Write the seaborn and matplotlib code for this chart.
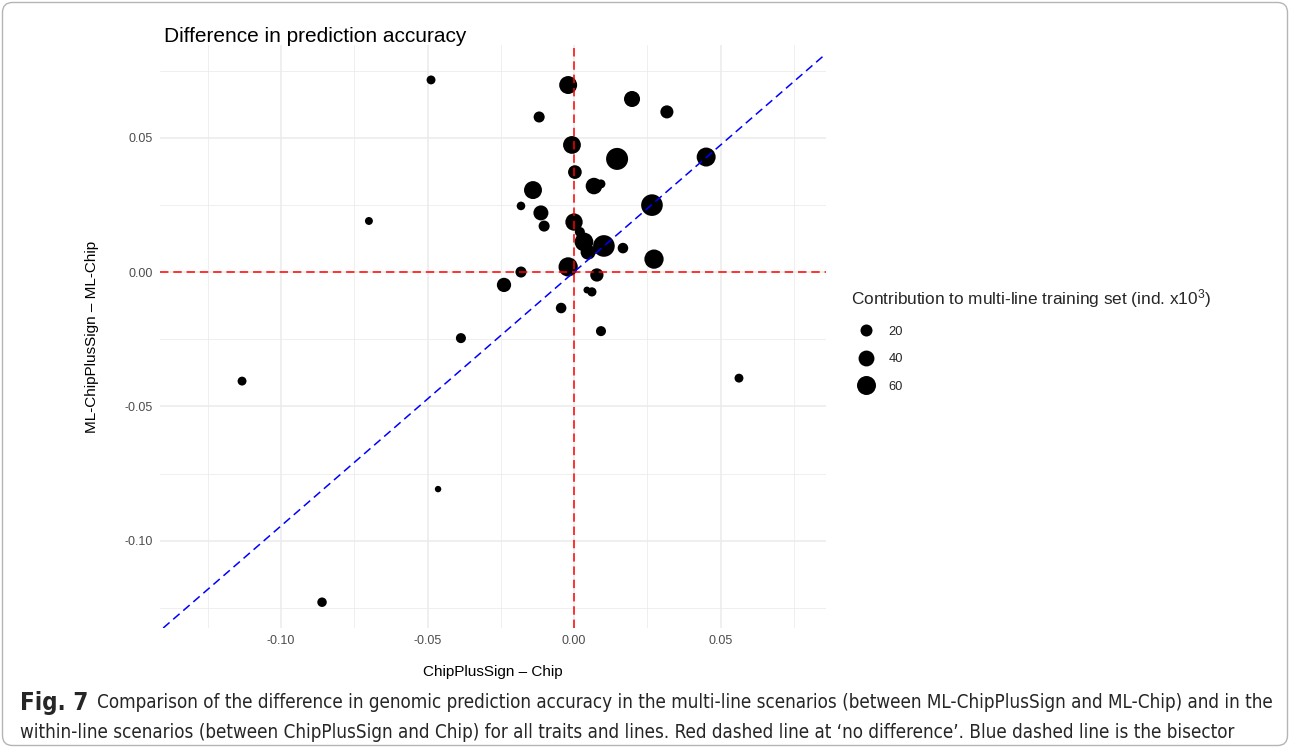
import numpy as np
import pandas as pd
import matplotlib
matplotlib.use("Agg")
import matplotlib.pyplot as plt
import seaborn as sns
from matplotlib.lines import Line2D
from matplotlib.patches import FancyBboxPatch
from matplotlib.ticker import FixedLocator, FixedFormatter
from matplotlib import font_manager

# ---------------- data ----------------
x_diff = [-0.0488, -0.0020, 0.0198, 0.0317, -0.0119, -0.0007, 0.0147, 0.0451,
          0.0003, 0.0068, 0.0092, -0.0140, -0.0181, -0.0113, 0.0266, -0.0700,
          -0.0102, 0.0000, 0.0020, 0.0034, 0.0048, 0.0102, 0.0167, 0.0273,
          -0.0020, -0.0181, 0.0078, -0.0239, 0.0044, 0.0061, -0.0044, 0.0092,
          -0.0386, -0.1133, 0.0563, -0.0464, -0.0860]
y_diff = [0.0715, 0.0696, 0.0644, 0.0596, 0.0577, 0.0473, 0.0421, 0.0428,
          0.0372, 0.0320, 0.0328, 0.0305, 0.0246, 0.0220, 0.0249, 0.0190,
          0.0171, 0.0186, 0.0149, 0.0112, 0.0074, 0.0097, 0.0089, 0.0048,
          0.0019, 0.0000, -0.0011, -0.0048, -0.0067, -0.0074, -0.0134, -0.0220,
          -0.0246, -0.0406, -0.0395, -0.0808, -0.1229]
contribution = [8, 53, 41, 25, 16, 52, 83, 60,
                28, 44, 8, 53, 7, 35, 80, 5,
                16, 49, 12, 58, 35, 80, 14, 62,
                62, 16, 26, 31, 2, 9, 14, 12,
                12, 8, 8, 1, 10]

x_ticks = [-0.10, -0.05, 0.00, 0.05]
x_tick_labels = ["-0.10", "-0.05", "0.00", "0.05"]
y_ticks = [-0.10, -0.05, 0.00, 0.05]
y_tick_labels = ["-0.10", "-0.05", "0.00", "0.05"]
legend_values = [20, 40, 60]
bisector_slope = 0.945   # slope of the blue dashed line as it appears in the figure

title_text = "Difference in prediction accuracy"
x_label = "ChipPlusSign \u2013 Chip"
y_label = "ML-ChipPlusSign \u2013 ML-Chip"
legend_title = "Contribution to multi-line training set (ind. x10$^{3}$)"
caption_bold = "Fig. 7"
caption_line1 = ("Comparison of the difference in genomic prediction accuracy in the multi-line "
                 "scenarios (between ML-ChipPlusSign and ML-Chip) and in the")
caption_line2 = ("within-line scenarios (between ChipPlusSign and Chip) for all traits and lines. "
                 "Red dashed line at \u2018no difference\u2019. Blue dashed line is the bisector")

df = pd.DataFrame({"x": x_diff, "y": y_diff, "contribution": contribution})

# ---------------- style ----------------
sns.set_theme(style="whitegrid")
plt.rcParams['font.family'] = ['Liberation Sans', 'DejaVu Sans']
plt.rcParams['mathtext.fontset'] = 'custom'
plt.rcParams['mathtext.rm'] = 'Liberation Sans'
plt.rcParams['mathtext.it'] = 'Liberation Sans:italic'
plt.rcParams['mathtext.bf'] = 'Liberation Sans:bold'

cond = [f for f in font_manager.fontManager.ttflist
        if f.name == 'DejaVu Sans' and str(f.stretch) in ('condensed', 'semi-condensed', '87.5', '75')]
cap_stretch = 'condensed' if cond else 'normal'

W, H = 1290, 748
fig = plt.figure(figsize=(W / 100, H / 100), dpi=100)
fig.patch.set_facecolor("white")

# outer rounded frame
frame = FancyBboxPatch((2.5 / W, 2.5 / H), (W - 5) / W, (H - 5) / H,
                       boxstyle=f"round,pad=0,rounding_size={10 / W}",
                       mutation_aspect=W / H, transform=fig.transFigure,
                       fill=False, ec="#B5B5B5", lw=1.0, zorder=0)
fig.patches.append(frame)

L, R, T, B = 160, 826, 45, 628
ax = fig.add_axes([L / W, 1 - B / H, (R - L) / W, (B - T) / H])
ax.set_facecolor("white")

SMIN, SLOPE = 18.7, 2.8
sns.scatterplot(data=df, x="x", y="y", size="contribution",
                sizes=(SMIN, SMIN + SLOPE * 100), size_norm=(0, 100),
                color="black", edgecolor="none", linewidth=0,
                legend=False, ax=ax, zorder=3)

ax.axhline(0, color="#FF0000", lw=1.1, dashes=(5.5, 3.2), zorder=4)
ax.axvline(0, color="#FF0000", lw=1.1, dashes=(5.5, 3.2), zorder=4)
ax.axline((0, 0), slope=bisector_slope, color="#0000FF", lw=1.1, dashes=(5.5, 3.2), zorder=4)

ax.set_xlim(-0.1413, 0.086)
ax.set_ylim(-0.1325, 0.0845)

ax.xaxis.set_major_locator(FixedLocator(x_ticks))
ax.xaxis.set_major_formatter(FixedFormatter(x_tick_labels))
ax.yaxis.set_major_locator(FixedLocator(y_ticks))
ax.yaxis.set_major_formatter(FixedFormatter(y_tick_labels))
ax.xaxis.set_minor_locator(FixedLocator([-0.125, -0.075, -0.025, 0.025, 0.075]))
ax.yaxis.set_minor_locator(FixedLocator([-0.125, -0.075, -0.025, 0.025, 0.075]))
ax.grid(which="major", color="#EBEBEB", lw=1.1, zorder=0)
ax.grid(which="minor", color="#EBEBEB", lw=0.55, zorder=0)
ax.set_axisbelow(True)
for s in ax.spines.values():
    s.set_visible(False)
ax.tick_params(which="both", length=0, labelsize=9, colors="#4D4D4D", pad=5)

ax.set_xlabel(x_label, fontsize=11, color="black", va="center")
ax.xaxis.set_label_coords(0.5, (B - 672) / (B - T))
ax.set_ylabel(y_label, fontsize=11, color="black", va="center")
ax.yaxis.set_label_coords((92 - L) / (R - L), 0.5)

fig.text(164 / W, 1 - 36 / H, title_text, fontsize=15, color="black",
         ha="left", va="center")

# size legend
handles = [Line2D([], [], ls="", marker="o", color="black", markeredgewidth=0,
                  markersize=np.sqrt(SMIN + SLOPE * v)) for v in legend_values]
leg = fig.legend(handles, [str(v) for v in legend_values], title=legend_title,
                 loc="upper left", bbox_to_anchor=(846 / W, 1 - 282 / H),
                 frameon=False, fontsize=9.3, title_fontsize=12.4,
                 alignment="left", labelspacing=1.2, handletextpad=0.55,
                 borderaxespad=0, handlelength=2.35)

# caption
fig.canvas.draw()
renderer = fig.canvas.get_renderer()
tb = fig.text(20 / W, 1 - 703 / H, caption_bold, fontsize=13, fontweight="bold",
              family=['DejaVu Sans'], fontstretch=cap_stretch, ha="left", va="center")
t1 = fig.text(97 / W, 1 - 703 / H, caption_line1, fontsize=13,
              family=['DejaVu Sans'], fontstretch=cap_stretch, ha="left", va="center")
t2 = fig.text(20 / W, 1 - 733 / H, caption_line2, fontsize=13,
              family=['DejaVu Sans'], fontstretch=cap_stretch, ha="left", va="center")
w1 = t1.get_window_extent(renderer).width
fs = 13 * (1274 - 97) / w1
t1.set_fontsize(fs)
t2.set_fontsize(fs)
wb = tb.get_window_extent(renderer).width
tb.set_fontsize(13 * (88 - 20) / wb)

fig.savefig("out.png", dpi=100, facecolor="white")
